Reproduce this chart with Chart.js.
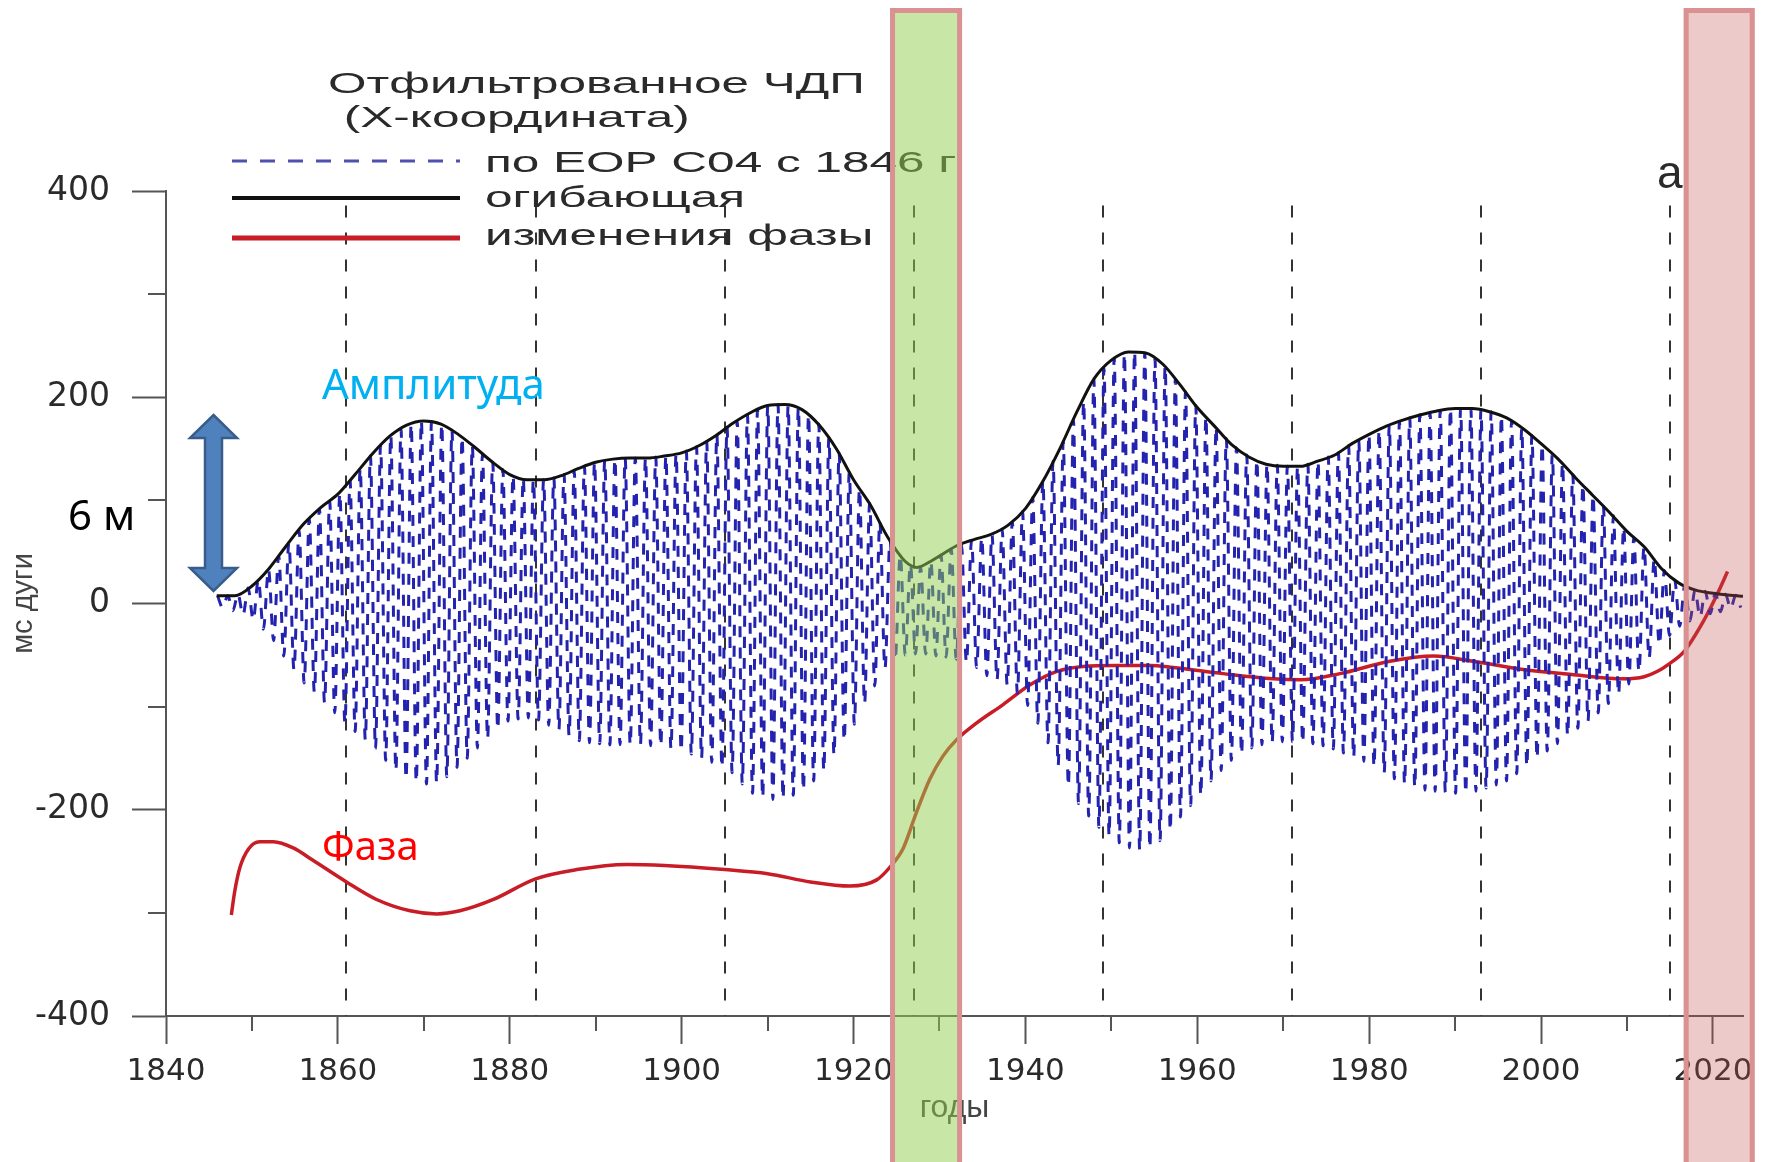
<!DOCTYPE html>
<html>
<head>
<meta charset="utf-8">
<script src="https://cdn.jsdelivr.net/npm/chart.js@4.4.1/dist/chart.umd.min.js"></script>
<style>
  html, body { margin: 0; padding: 0; background: #fff; }
  #wrap { position: relative; width: 1767px; height: 1162px; overflow: hidden; }
  #chart { position: absolute; left: 0; top: 0; }
  #notes { position: absolute; left: 0; top: 0; pointer-events: none; }
</style>
</head>
<body>
<div id="wrap">
  <canvas id="chart" width="1767" height="1162"></canvas>
  <svg id="notes" width="1767" height="1162">
    <text x="322" y="399" font-family="Noto Sans" font-size="42" fill="#00b0f0">Амплитуда</text>
    <text x="322" y="860" font-family="Noto Sans" font-size="40" fill="#ff0000">Фаза</text>
    <text x="68" y="530" font-family="Noto Sans" font-size="42" fill="#000">6 м</text>
    <path d="M213.5 415 L237 438 L222 438 L222 568 L237 568 L213.5 591 L190 568 L205 568 L205 438 L190 438 Z"
          fill="#4f81bd" stroke="#385d8a" stroke-width="2.5"/>
  </svg>
</div>
<script>
// ticks
var xTicks = [1840, 1860, 1880, 1900, 1920, 1940, 1960, 1980, 2000, 2020];
var xMinorTicks = [1850, 1870, 1890, 1910, 1930, 1950, 1970, 1990, 2010];
var yTicks = [-400, -200, 0, 200, 400];
var yMinorTicks = [-300, -100, 100, 300];

// vertical dashed markers (every 22 years)
var markYears = [1861, 1883, 1905, 1927, 1949, 1971, 1993, 2015];
var markTop = 386;

// highlighted bands (years)
var bandGreen = [1924.25, 1932.63];
var bandRed = [2016.6, 2024.86];

// legend
var legendTitle = ['Отфильтрованное ЧДП', ' (X-координата)'];

// envelope (black)
var envYears = [1845.9, 1848, 1850, 1852, 1854, 1856, 1858, 1860, 1862, 1864, 1866, 1868, 1870, 1872, 1874, 1876, 1878,
  1880, 1882, 1884, 1886, 1888, 1890, 1892, 1894, 1896, 1898, 1900, 1902, 1904, 1906, 1908, 1910, 1912, 1914, 1916,
  1918, 1920, 1922, 1924, 1926, 1927.4, 1929, 1930, 1932, 1934, 1936, 1938, 1940, 1942, 1944, 1946, 1948, 1950, 1952,
  1954, 1956, 1958, 1960, 1962, 1964, 1966, 1968, 1970, 1972, 1974, 1976, 1978, 1980, 1982, 1984, 1986, 1988, 1990,
  1992, 1994, 1996, 1998, 2000, 2002, 2004, 2006, 2008, 2010, 2012, 2014, 2016, 2018, 2020, 2022, 2023.5];
var envValues = [7.5, 7.5, 17, 34, 56, 77, 93, 106, 125, 145, 162, 173, 177, 174, 164, 151, 137,
  125, 120, 120, 124, 131, 137, 140, 141, 141, 143, 146, 153, 163, 175, 185, 192, 193, 188, 173,
  150, 120, 95, 64, 41, 35, 41, 46, 56, 62, 67, 76, 92, 118, 150, 186, 218, 236, 244,
  243, 232, 212, 190, 172, 154, 142, 135, 133, 133, 138, 144, 155, 164, 172, 178, 183, 187, 189,
  189, 186, 180, 169, 155, 140, 122, 105, 88, 70, 55, 34, 20, 13, 10, 8, 7];

// filtered Chandler wobble: one peak and one trough per period
var oscStart = 1846.0;
var oscPeriod = 1.1856;
var oscPeaks = [
  7.5, 7.5, 9, 15, 23, 33, 46, 59, 71, 82,
  92, 99, 107, 119, 131, 143, 153, 163, 169, 174,
  177, 176, 174, 168, 161, 153, 145, 137, 130, 124,
  121, 120, 120, 122, 125, 129, 133, 137, 139, 140,
  141, 141, 141, 142, 143, 145, 148, 152, 157, 164,
  171, 177, 183, 188, 192, 193, 192, 190, 183, 174,
  161, 146, 127, 111, 97, 79, 61, 47, 38, 35,
  41, 47, 53, 58, 61, 64, 67, 72, 79, 89,
  103, 119, 138, 157, 178, 196, 217, 228, 238, 242,
  244, 243, 237, 230, 218, 205, 192, 181, 171, 160,
  151, 144, 139, 135, 134, 133, 133, 135, 138, 142,
  146, 153, 158, 164, 168, 173, 176, 180, 183, 185,
  187, 189, 189, 189, 188, 186, 182, 177, 170, 163,
  154, 145, 136, 125, 115, 105, 95, 85, 74, 64,
  55, 43, 32, 23, 18, 13, 12, 10, 9, 8];
var oscTroughs = [
  -4, -7, -11, -16, -25, -36, -51, -64, -77, -86,
  -96, -106, -116, -124, -132, -141, -152, -162, -170, -173,
  -175, -174, -168, -159, -150, -140, -131, -122, -114, -112,
  -111, -113, -118, -122, -128, -133, -135, -136, -137, -137,
  -137, -137, -138, -138, -141, -143, -146, -150, -154, -159,
  -164, -175, -184, -188, -190, -189, -186, -181, -172, -162,
  -147, -133, -117, -97, -80, -63, -55, -50, -49, -49,
  -51, -52, -54, -57, -62, -70, -74, -79, -87, -99,
  -116, -135, -157, -177, -194, -206, -217, -225, -232, -237,
  -239, -237, -230, -220, -207, -196, -186, -172, -162, -152,
  -146, -140, -137, -135, -134, -134, -135, -136, -138, -141,
  -145, -149, -153, -158, -164, -170, -175, -178, -181, -182,
  -183, -184, -184, -182, -179, -176, -172, -165, -158, -150,
  -143, -136, -128, -121, -114, -106, -97, -88, -78, -66,
  -53, -40, -31, -22, -17, -13, -10, -8, -5, -4];

// phase change (red)
var phaseYears = [1847.6, 1848.0, 1848.6, 1849.6, 1850.9, 1852.5, 1854.8, 1857.1, 1861, 1864.5, 1868.4, 1871.5,
  1874.2, 1878.1, 1883, 1887.8, 1893.6, 1898, 1905, 1910, 1915, 1919.6, 1922.7, 1924.2, 1925.8, 1927.3, 1928.9,
  1930.4, 1932, 1934.3, 1937.4, 1940.5, 1943.6, 1946.7, 1950.6, 1954.5, 1957.2, 1963, 1968.8, 1972, 1976.6,
  1982.4, 1987.5, 1992.1, 1997.9, 2003.8, 2009.6, 2012, 2013.5, 2015, 2016.6, 2018.9, 2020.5, 2021.7];
var phaseValues = [-302, -279, -256, -238, -231, -231, -237, -249, -270, -287, -298, -301,
  -298, -287, -267, -258, -253, -254, -258, -262, -270, -274, -268, -256, -237, -203, -170,
  -148, -132, -116, -98, -79, -66, -61, -60, -60, -62, -68, -73, -74, -68,
  -56, -51, -56, -64, -69, -73, -71, -66, -58, -47, -17, 9, 31];

var axisColor = '#555';
var textColor = '#2a2a2a';

var oscData = [];
for (var i = 0; i < oscPeaks.length; i++) {
  oscData.push({x: oscStart + i * oscPeriod, y: oscPeaks[i]});
  oscData.push({x: oscStart + (i + 0.5) * oscPeriod, y: oscTroughs[i]});
}
var envData = envYears.map(function(v, i) { return {x: v, y: envValues[i]}; });
var phaseData = phaseYears.map(function(v, i) { return {x: v, y: phaseValues[i]}; });

function wideText(ctx, text, x, y, sx) {
  ctx.save();
  ctx.translate(x, y);
  ctx.scale(sx, 1);
  ctx.fillText(text, 0, 0);
  ctx.restore();
}

var decor = {
  id: 'decor',
  beforeDatasetsDraw: function(chart) {
    var ctx = chart.ctx, xs = chart.scales.x, ys = chart.scales.y;
    ctx.save();
    ctx.strokeStyle = '#333';
    ctx.lineWidth = 2;
    ctx.setLineDash([12, 15]);
    markYears.forEach(function(yr) {
      var px = Math.round(xs.getPixelForValue(yr));
      ctx.beginPath();
      ctx.moveTo(px, ys.getPixelForValue(markTop));
      ctx.lineTo(px, ys.getPixelForValue(-400));
      ctx.stroke();
    });
    ctx.restore();
  },
  afterDraw: function(chart) {
    var ctx = chart.ctx, xs = chart.scales.x, ys = chart.scales.y;
    var area = chart.chartArea;
    ctx.save();

    // minor ticks
    ctx.strokeStyle = axisColor;
    ctx.lineWidth = 2;
    yMinorTicks.forEach(function(v) {
      var py = Math.round(ys.getPixelForValue(v));
      ctx.beginPath(); ctx.moveTo(area.left - 18, py); ctx.lineTo(area.left, py); ctx.stroke();
    });
    xMinorTicks.forEach(function(v) {
      var px = Math.round(xs.getPixelForValue(v));
      ctx.beginPath(); ctx.moveTo(px, area.bottom); ctx.lineTo(px, area.bottom + 15); ctx.stroke();
    });

    // legend
    var sx = 1.65;
    ctx.fillStyle = textColor;
    ctx.font = '30px "Liberation Sans", Arial, sans-serif';
    wideText(ctx, legendTitle[0], 328, 93, sx);
    wideText(ctx, legendTitle[1], 330, 127, sx);
    var lineY = [161, 198, 238];
    var textY = [172, 207, 245];
    var sets = chart.data.datasets;
    for (var k = 0; k < sets.length; k++) {
      var ds = sets[k];
      ctx.save();
      ctx.strokeStyle = ds.legendColor || ds.borderColor;
      ctx.lineWidth = ds.legendWidth || ds.borderWidth;
      ctx.setLineDash(ds.borderDash ? [15, 13] : []);
      ctx.beginPath();
      ctx.moveTo(232, lineY[k]);
      ctx.lineTo(460, lineY[k]);
      ctx.stroke();
      ctx.restore();
      wideText(ctx, ds.label, 485, textY[k], sx);
    }

    // panel letter
    ctx.font = '46px "Liberation Sans", Arial, sans-serif';
    ctx.fillText('a', 1657, 188);

    // highlighted bands over everything
    [[bandGreen, 'rgba(146,208,80,0.5)'], [bandRed, 'rgba(192,80,77,0.3)']].forEach(function(b) {
      var l = xs.getPixelForValue(b[0][0]), r = xs.getPixelForValue(b[0][1]);
      ctx.fillStyle = b[1];
      ctx.fillRect(l, 8, r - l, chart.height);
      ctx.strokeStyle = 'rgb(217,146,145)';
      ctx.lineWidth = 5;
      ctx.setLineDash([]);
      ctx.strokeRect(l + 2.5, 10.5, r - l - 5, chart.height + 20);
    });
    ctx.restore();
  }
};

var ctx = document.getElementById('chart');
new Chart(ctx, {
  type: 'line',
  data: {
    datasets: [
      {
        label: 'по EOP C04 с 1846 г',
        data: oscData,
        borderColor: 'rgb(35,35,175)',
        borderWidth: 3,
        borderDash: [11, 10],
        legendColor: 'rgb(80,80,175)',
        pointRadius: 0,
        cubicInterpolationMode: 'monotone',
        order: 1
      },
      {
        label: 'огибающая',
        data: envData,
        borderColor: '#111',
        borderWidth: 3,
        legendWidth: 4,
        pointRadius: 0,
        cubicInterpolationMode: 'monotone',
        order: 0
      },
      {
        label: 'изменения фазы',
        data: phaseData,
        borderColor: 'rgb(200,28,38)',
        borderWidth: 3.5,
        legendWidth: 5,
        pointRadius: 0,
        cubicInterpolationMode: 'monotone',
        order: 2
      }
    ]
  },
  options: {
    responsive: false,
    animation: false,
    events: [],
    layout: { padding: { left: 0, top: 191, right: 24, bottom: 0 } },
    plugins: {
      legend: { display: false },
      tooltip: { enabled: false }
    },
    scales: {
      x: {
        type: 'linear',
        min: 1840,
        max: 2023.5,
        afterBuildTicks: function(s) { s.ticks = xTicks.map(function(v) { return {value: v}; }); },
        afterFit: function(s) { s.height = 146; },
        border: { display: true, color: axisColor, width: 2 },
        grid: { drawOnChartArea: false, drawTicks: true, tickLength: 28, tickColor: axisColor, tickWidth: 2 },
        ticks: { color: textColor, padding: 9, maxRotation: 0, autoSkip: false,
                 font: { family: 'DejaVu Sans', size: 31 },
                 callback: function(v) { return String(v); } },
        title: { display: true, text: 'годы', color: '#444',
                 font: { family: 'Liberation Sans', size: 32 }, padding: { top: 0, bottom: 35 } }
      },
      y: {
        type: 'linear',
        min: -400,
        max: 400,
        afterBuildTicks: function(s) { s.ticks = yTicks.map(function(v) { return {value: v}; }); },
        afterFit: function(s) { s.width = 166; },
        border: { display: true, color: axisColor, width: 2 },
        grid: { drawOnChartArea: false, drawTicks: true, tickLength: 34, tickColor: axisColor, tickWidth: 2 },
        ticks: { color: textColor, padding: 22, font: { family: 'DejaVu Sans', size: 33 },
                 callback: function(v) { return String(v); } },
        title: { display: true, text: 'мс дуги', color: '#444',
                 font: { family: 'Liberation Sans', size: 29 }, padding: { top: 7, bottom: 0 } }
      }
    }
  },
  plugins: [decor]
});
</script>
</body>
</html>
